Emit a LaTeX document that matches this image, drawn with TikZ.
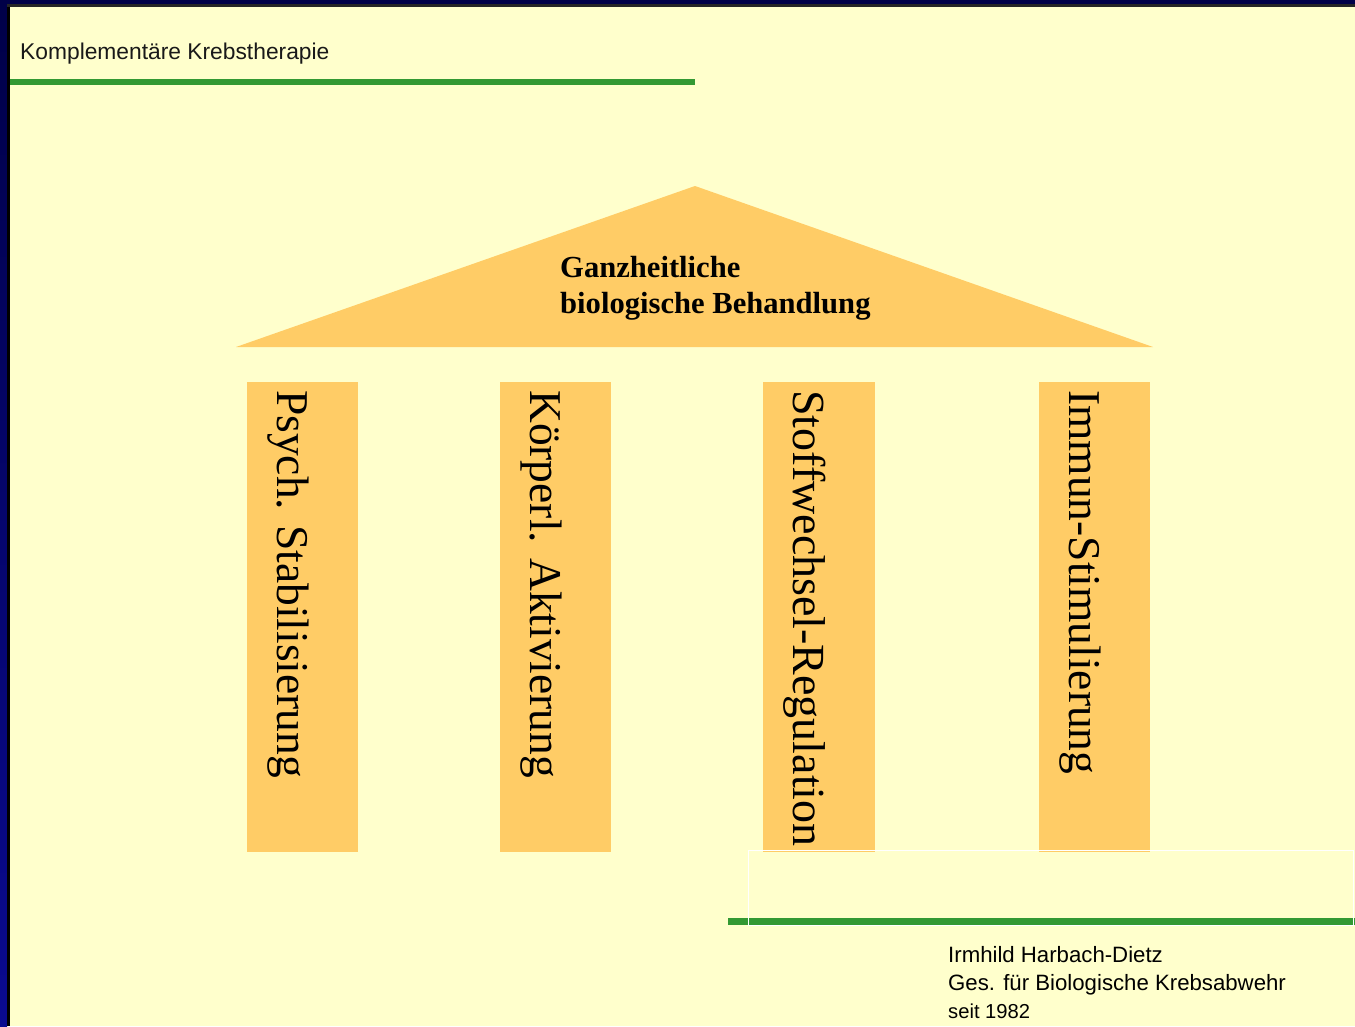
\documentclass[tikz,border=0pt]{standalone}
\usepackage{fontspec}
\setmainfont{Liberation Serif}
\setsansfont{Liberation Sans}
\definecolor{bgyellow}{HTML}{FFFFCC}
\definecolor{pillar}{HTML}{FFCC66}
\definecolor{linegreen}{HTML}{339933}
\definecolor{navytop}{HTML}{000048}
\definecolor{navybot}{HTML}{0A0A90}
\tikzset{
  pillarbox/.style={fill=pillar, draw=none},
  pillartext/.style={rotate=-90, anchor=base west, inner sep=0pt, font=\fontsize{45.5}{50}\selectfont},
  greenbar/.style={fill=linegreen, draw=none},
  sanstext/.style={inner sep=0pt, anchor=base west, font=\sffamily\fontsize{22.2}{26}\selectfont}
}
\begin{document}
\begin{tikzpicture}[x=1pt,y=-1pt]
\useasboundingbox (0,0) rectangle (1355,1026);
% background
\fill[bgyellow] (0,0) rectangle (1355,1026);
% frame
\shade[top color=navytop, bottom color=navybot] (0,0) rectangle (7,1026);
\fill[black] (7,4) rectangle (10,1026);
\fill[navytop] (0,0) rectangle (1355,4);
\fill[black!85] (7,4) rectangle (1355,6.5);
% title
\node[sanstext, font=\sffamily\fontsize{22.8}{26}\selectfont, text=black!90] (title) at (20,59) {Komplementäre Krebstherapie};
\fill[greenbar] (10,79) rectangle (695,85);
% roof
\fill[pillar] (695,186) coordinate (apex) -- (1153,347) -- (236,347) -- cycle;
\node[anchor=base west, inner sep=0pt, align=left, font=\bfseries\fontsize{30.6}{36}\selectfont] (roof) at (560,313) {Ganzheitliche\\biologische Behandlung};
% pillars
\fill[pillarbox] (247,382) rectangle (358,852);
\fill[pillarbox] (500,382) rectangle (611,852);
\fill[pillarbox] (763,382) rectangle (875,852);
\fill[pillarbox] (1039,382) rectangle (1150,852);
\node[pillartext] (p1) at (277,390) {Psych. Stabilisierung};
\node[pillartext] (p2) at (530,390) {Körperl. Aktivierung};
\node[pillartext, font=\fontsize{46}{50}\selectfont] (p3) at (793,390) {Stoffwechsel-Regulation};
\node[pillartext] (p4) at (1069,390) {Immun-Stimulierung};
% bottom
\fill[greenbar] (728,918) rectangle (1355,925);
\draw[white, line width=1pt] (748.5,850.5) rectangle (1353,925);
\node[sanstext] (author) at (948,962) {Irmhild Harbach-Dietz};
\node[sanstext] (society) at (948,990) {Ges. für Biologische Krebsabwehr};
\node[sanstext, font=\sffamily\fontsize{20.2}{24}\selectfont] (since) at (948,1018) {seit 1982};
\end{tikzpicture}
\end{document}
